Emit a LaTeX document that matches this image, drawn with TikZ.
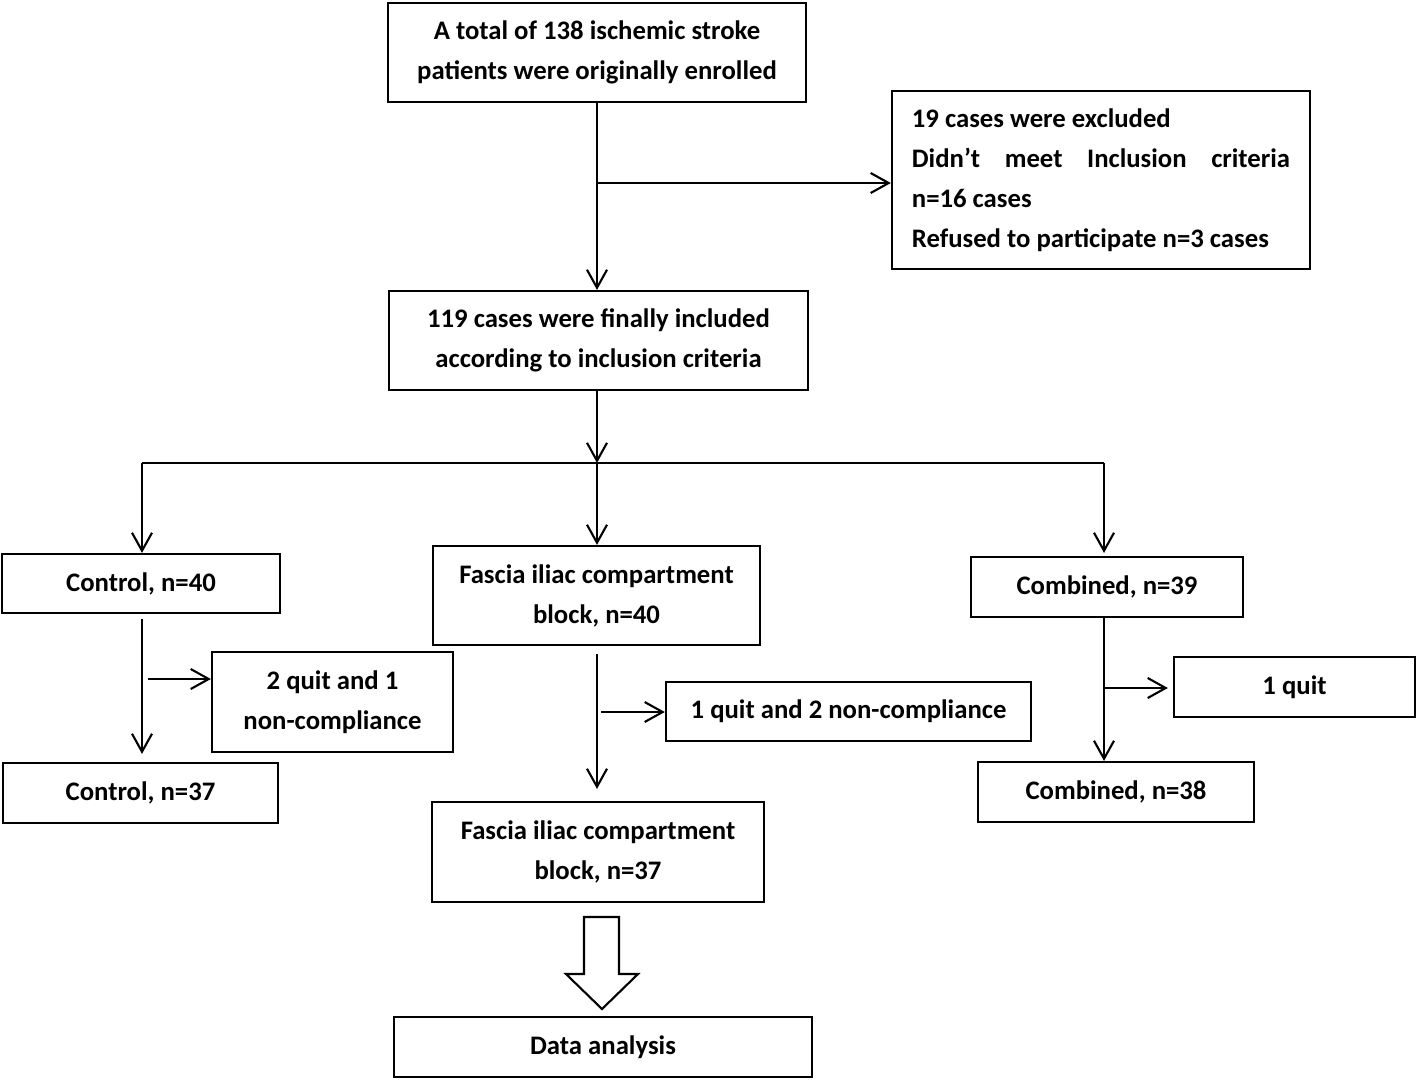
\documentclass[tikz,border=0pt]{standalone}
\usepackage{fontspec}
\setmainfont{Carlito}
\usepackage{tikz}
\usetikzlibrary{arrows.meta}

\begin{document}
\begin{tikzpicture}[x=0.01cm, y=-0.01cm,
		box/.style={draw, line width=0.6pt, inner sep=0pt, align=center, font=\bfseries\fontsize{7.6}{11.4}\selectfont},
		arr/.style={line width=0.6pt, -{Straight Barb[length=0.18cm, width=0.2cm]}},
		ln/.style={line width=0.6pt}]
						\useasboundingbox (0,0) rectangle (1418,1081);
						
						\node (top) at (597,52.5) [box, minimum width=4.18cm, minimum height=0.99cm] {A total of 138 ischemic stroke\\patients were originally enrolled};
						\node (excl) at (1101,180) [box, minimum height=1.78cm, text width=3.78cm, inner xsep=0.2cm, align=flush left] {19 cases were excluded\\\leavevmode\hbox to 3.78cm{Didn’t\hfill meet\hfill Inclusion\hfill criteria}\\n=16 cases\\Refused to participate n=3 cases};
						\node (incl) at (598.5,340.5) [box, minimum width=4.19cm, minimum height=0.99cm] {119 cases were finally included\\according to inclusion criteria};
						
						\node (ctlA) at (141,583.5) [box, minimum width=2.77cm, minimum height=0.59cm] {Control, n=40};
						\node (ficbA) at (596.5,595.5) [box, minimum width=3.27cm, minimum height=0.99cm] {Fascia iliac compartment\\block, n=40};
						\node (combA) at (1107,587) [box, minimum width=2.72cm, minimum height=0.6cm] {Combined, n=39};
						
						\node (quitC) at (332.5,702) [box, minimum width=2.41cm, minimum height=1cm] {2 quit and 1\\non-compliance};
						\node (quitF) at (848.5,711.5) [box, minimum width=3.65cm, minimum height=0.59cm] {1 quit and 2 non-compliance};
						\node (quitB) at (1294.5,687) [box, minimum width=2.41cm, minimum height=0.6cm] {1 quit};
						
						\node (ctlB) at (140.5,793) [box, minimum width=2.75cm, minimum height=0.6cm] {Control, n=37};
						\node (ficbB) at (598,852) [box, minimum width=3.32cm, minimum height=1cm] {Fascia iliac compartment\\block, n=37};
						\node (combB) at (1116,792) [box, minimum width=2.76cm, minimum height=0.6cm] {Combined, n=38};
						
						\node (data) at (603,1047) [box, minimum width=4.18cm, minimum height=0.6cm] {Data analysis};
						
						\coordinate (S) at (597,183);
						\coordinate (L) at (142,463);
						\coordinate (M) at (597,463);
						\coordinate (R) at (1104,463);
						\coordinate (SC) at (148,679);
						\coordinate (SF) at (601,712);
						\coordinate (SB) at (1104,688);
						
						\draw[arr] (top.south -| M) - - (incl.north -| M);
						\draw[arr] (S) - - (S -| excl.west);
						\draw[arr] (incl.south -| M) - - (M);
						\draw[ln] (L) - - (R);
						\draw[arr] (L) - - (L |- ctlA.north);
						\draw[arr] (M) - - (ficbA.north -| M);
						\draw[arr, shorten >=0.03cm] (R) - - (R |- combA.north);
						
						\draw[arr, shorten <=0.05cm, shorten >=0.08cm] (L |- ctlA.south) - - (L |- ctlB.north);
						\draw[arr] (SC) - - (SC -| quitC.west);
						\draw[arr, shorten <=0.08cm, shorten >=0.12cm] (M |- ficbA.south) - - (M |- ficbB.north);
						\draw[arr] (SF) - - (SF -| quitF.west);
						\draw[arr] (R |- combA.south) - - (R |- combB.north);
						\draw[arr, shorten >=0.05cm] (SB) - - (SB -| quitB.west);
						
						\draw[ln] (584,917) - - (619,917) - - (619,974) - - (638,974) - - (602,1009) - - (566,974) - - (584,974) - - cycle;
					\end{tikzpicture}
\end{document}
